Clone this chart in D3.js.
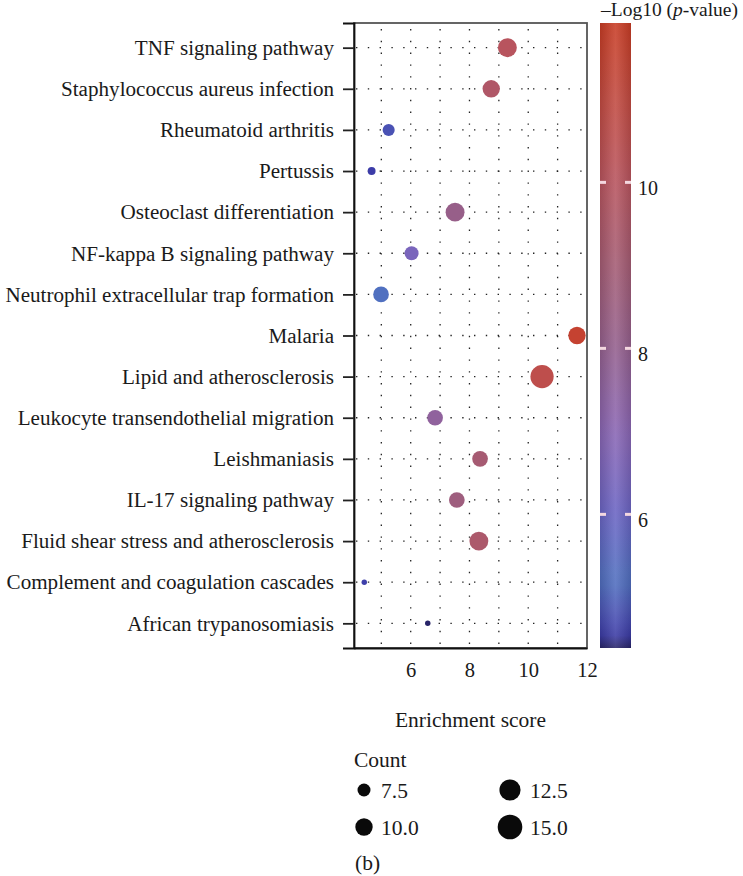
<!DOCTYPE html>
<html>
<head>
<meta charset="utf-8">
<script src="https://cdn.jsdelivr.net/npm/d3@7"></script>
<style>
  body { margin: 0; background: #fff; }
  svg text { font-family: "Liberation Serif", "DejaVu Serif", serif; fill: #1a1a1a; }
</style>
</head>
<body>
<svg id="chart"></svg>
<script>
let width = 743, height = 876;

// pathways, top to bottom
let pathways = [
  "TNF signaling pathway",
  "Staphylococcus aureus infection",
  "Rheumatoid arthritis",
  "Pertussis",
  "Osteoclast differentiation",
  "NF-kappa B signaling pathway",
  "Neutrophil extracellular trap formation",
  "Malaria",
  "Lipid and atherosclerosis",
  "Leukocyte transendothelial migration",
  "Leishmaniasis",
  "IL-17 signaling pathway",
  "Fluid shear stress and atherosclerosis",
  "Complement and coagulation cascades",
  "African trypanosomiasis"
];
let enrichment = [9.29, 8.74, 5.25, 4.67, 7.51, 6.03, 4.99, 11.66, 10.47, 6.83, 8.36, 7.57, 8.32, 4.42, 6.58];
let counts = [11, 10, 7, 5, 11, 8, 9, 10, 14, 9, 9, 9, 11, 4, 4];
let logp = [10.0, 9.6, 4.8, 4.55, 8.2, 6.5, 5.2, 11.5, 10.6, 7.6, 9.1, 8.6, 9.4, 4.6, 4.39];

let xTicks = [6, 8, 10, 12];
let gridX = [5, 6, 7, 8, 9, 10, 11];
let colorTicks = [6, 8, 10];
let legendCounts = [7.5, 10.0, 12.5, 15.0];

let rows = pathways.map((p, i) => ({ name: p, x: enrichment[i], n: counts[i], p: logp[i] }));

let svg = d3.select("#chart")
  .attr("width", width)
  .attr("height", height);

let plot = { left: 354, right: 587, top: 23, bottom: 648 };

let x = d3.scaleLinear().domain([4.07, 12]).range([plot.left, plot.right]);
let y = d3.scalePoint().domain(pathways).range([plot.top, plot.bottom]).padding(0.6);
let size = d3.scaleSqrt().domain([7.5, 15]).range([6.5, 12.3]);
let color = d3.scaleLinear()
  .domain([4.39, 4.55, 4.8, 5.2, 6, 7, 8, 9, 10, 11, 11.92])
  .range(["#282468", "#3c3ca8", "#4a52b4", "#5070c0", "#6a64c4", "#8a66b4",
          "#94608e", "#a45c74", "#b8545e", "#c24a40", "#c83c24"]);

// dotted grid
let grid = svg.append("g").attr("stroke", "#222").attr("stroke-width", 1.3)
  .attr("stroke-dasharray", "1.4,10.4");
grid.selectAll(".gx").data(gridX).enter().append("line")
  .attr("x1", d => x(d)).attr("x2", d => x(d))
  .attr("y1", plot.top + 6).attr("y2", plot.bottom);
grid.selectAll(".gy").data(pathways).enter().append("line")
  .attr("x1", plot.left + 2).attr("x2", plot.right)
  .attr("y1", d => y(d)).attr("y2", d => y(d));

// panel border
svg.append("rect")
  .attr("x", plot.left).attr("y", plot.top)
  .attr("width", plot.right - plot.left).attr("height", plot.bottom - plot.top)
  .attr("fill", "none").attr("stroke", "#555").attr("stroke-width", 1.8);

// points
svg.append("g").selectAll("circle").data(rows).enter().append("circle")
  .attr("cx", d => x(d.x))
  .attr("cy", d => y(d.name))
  .attr("r", d => size(d.n))
  .attr("fill", d => color(d.p));

// y axis
let yAxis = svg.append("g")
  .attr("transform", "translate(" + plot.left + ",0)")
  .call(d3.axisLeft(y).tickSize(11).tickPadding(9));
yAxis.select(".domain").attr("stroke", "#111").attr("stroke-width", 1.8);
yAxis.selectAll(".tick line").attr("stroke", "#222").attr("stroke-width", 1.8);
yAxis.selectAll("text").style("font-size", "21.1px").attr("fill", "#1a1a1a");

// x axis
let xAxis = svg.append("g")
  .attr("transform", "translate(0," + plot.bottom + ")")
  .call(d3.axisBottom(x).tickValues(xTicks).tickSize(0).tickPadding(14));
xAxis.select(".domain").attr("stroke", "#111").attr("stroke-width", 1.8);
xAxis.selectAll("text").style("font-size", "20.5px").attr("fill", "#1a1a1a");

svg.append("text")
  .attr("x", (plot.left + plot.right) / 2).attr("y", 727)
  .attr("text-anchor", "middle").style("font-size", "21.5px")
  .text("Enrichment score");

// colour bar
let cb = { x: 600, w: 31 };
let cbY = d3.scaleLinear().domain([4.39, 11.92]).range([plot.bottom, plot.top]);
let defs = svg.append("defs");
let grad = defs.append("linearGradient").attr("id", "cbgrad")
  .attr("x1", 0).attr("y1", 1).attr("x2", 0).attr("y2", 0);
let stops = d3.range(0, 1.0001, 0.02).map(t => 4.39 + t * (11.92 - 4.39));
grad.selectAll("stop").data(stops).enter().append("stop")
  .attr("offset", (d, i) => (i / (stops.length - 1) * 100) + "%")
  .attr("stop-color", d => color(d));
let shine = defs.append("linearGradient").attr("id", "cbshine")
  .attr("x1", 0).attr("y1", 0).attr("x2", 1).attr("y2", 0);
shine.append("stop").attr("offset", "0%").attr("stop-color", "#000").attr("stop-opacity", 0.12);
shine.append("stop").attr("offset", "50%").attr("stop-color", "#fff").attr("stop-opacity", 0.12);
shine.append("stop").attr("offset", "100%").attr("stop-color", "#000").attr("stop-opacity", 0.12);

svg.append("rect")
  .attr("x", cb.x).attr("y", plot.top)
  .attr("width", cb.w).attr("height", plot.bottom - plot.top)
  .attr("fill", "url(#cbgrad)");
svg.append("rect")
  .attr("x", cb.x).attr("y", plot.top)
  .attr("width", cb.w).attr("height", plot.bottom - plot.top)
  .attr("fill", "url(#cbshine)");

let cbTicks = svg.append("g").selectAll("g").data(colorTicks).enter().append("g");
cbTicks.append("rect")
  .attr("x", cb.x).attr("y", d => cbY(d) - 1.5)
  .attr("width", 6).attr("height", 3).attr("fill", "#f4d8e0");
cbTicks.append("rect")
  .attr("x", cb.x + cb.w - 6).attr("y", d => cbY(d) - 1.5)
  .attr("width", 6).attr("height", 3).attr("fill", "#f4d8e0");
cbTicks.append("text")
  .attr("x", cb.x + cb.w + 7).attr("y", d => cbY(d) + 6)
  .attr("dy", "0.35em").style("font-size", "20px")
  .text(d => d);

let cbTitle = svg.append("text")
  .attr("x", 601).attr("y", 16).style("font-size", "19.5px");
cbTitle.append("tspan").text("\u2013Log10 (");
cbTitle.append("tspan").style("font-style", "italic").text("p");
cbTitle.append("tspan").text("-value)");

// size legend
svg.append("text").attr("x", 354).attr("y", 767)
  .style("font-size", "21.5px").text("Count");
let leg = svg.append("g").selectAll("g").data(legendCounts).enter().append("g")
  .attr("transform", (d, i) => "translate(" + (i < 2 ? 364 : 510) + "," + (i % 2 === 0 ? 790 : 827) + ")");
leg.append("circle").attr("r", d => size(d)).attr("fill", "#0a0a0a");
leg.append("text")
  .attr("x", (d, i) => i < 2 ? 17 : 20).attr("dy", "0.35em")
  .style("font-size", "21.5px")
  .text(d => d.toFixed(1));

svg.append("text").attr("x", 355).attr("y", 870)
  .style("font-size", "21.5px").text("(b)");
</script>
</body>
</html>
